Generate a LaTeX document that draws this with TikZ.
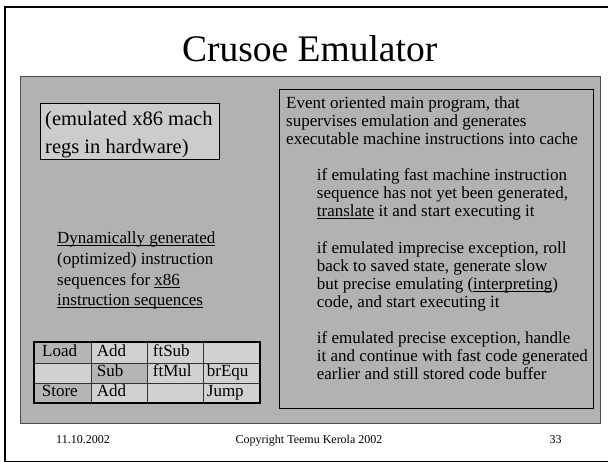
\documentclass[tikz,border=0pt]{standalone}
\usepackage{fontspec}
\setmainfont{Liberation Serif}
\newsavebox{\ulinbox}
\newcommand{\ulin}[1]{\sbox{\ulinbox}{#1}\rlap{\rule[-2.2pt]{\wd\ulinbox}{0.8pt}}\usebox{\ulinbox}}
\definecolor{panelgray}{gray}{0.70}
\definecolor{regsgray}{gray}{0.80}
\definecolor{celllight}{gray}{0.82}
\definecolor{celldark}{gray}{0.71}
\tikzset{
	bodytext/.style={anchor=base west, inner sep=0pt, align=left, font=\fontsize{17}{18.1}\selectfont},
	celltext/.style={anchor=base west, inner sep=0pt, font=\fontsize{17}{20}\selectfont},
	foottext/.style={anchor=base, inner sep=0pt, font=\fontsize{12}{14}\selectfont},
}

\begin{document}
\begin{tikzpicture}[x=1pt, y=-1pt]
			%%%%% START %%%%%
			\useasboundingbox (0, 0) rectangle (608, 462);
			\fill[white] (0, 0) rectangle (608, 462);
			
			% slide frame
			\draw[line width=1.8pt] (5, 7) rectangle (620, 461.5);
			
			\node[anchor=base, inner sep=0pt, font=\fontsize{37.5}{40}\selectfont] (title) at (309.7, 61.7) {Crusoe Emulator};
			
			% gray panel
			\draw[line width=1pt, color=black!70, fill=panelgray] (20, 77) rectangle (600, 423);
			
			% emulated registers (base = last line)
			\draw[line width=0.8pt, fill=regsgray] (40, 103) rectangle (219, 159);
			\node[bodytext, font=\fontsize{20.5}{28}\selectfont] (regs) at (45, 154) {(emulated x86 mach\\regs in hardware)};
			
			\node[bodytext, font=\fontsize{17}{20.6}\selectfont] (dyncode) at (57, 305.8) {\ulin{Dynamically generated}\\(optimized) instruction\\sequences for \ulin{x86}\\\ulin{instruction sequences}};
			
			% code buffer table
			\fill[celllight] (34, 342) rectangle (260, 403);
			\fill[celldark] (34, 342) rectangle (91, 363);
			\fill[celldark] (91, 363) rectangle (147, 383);
			\fill[celldark] (34, 383) rectangle (91, 403);
			\draw[line width=0.8pt, color=black!80] (91, 342) -- (91, 403);
			\draw[line width=0.8pt, color=black!80] (147, 342) -- (147, 403);
			\draw[line width=0.8pt, color=black!80] (203, 342) -- (203, 403);
			\draw[line width=0.8pt, color=black!80] (34, 363) -- (260, 363);
			\draw[line width=0.8pt, color=black!80] (34, 383) -- (260, 383);
			\draw[line width=2pt] (34, 342) rectangle (260, 403);
			
			\node[celltext] (load) at (42, 356.3) {Load};
			\node[celltext] (add1) at (96.7, 356.3) {Add};
			\node[celltext] (ftsub) at (152.7, 356.3) {ftSub};
			\node[celltext] (sub) at (96.7, 376.3) {Sub};
			\node[celltext] (ftmul) at (152.7, 376.3) {ftMul};
			\node[celltext] (brequ) at (206.7, 376.3) {brEqu};
			\node[celltext] (store) at (41.7, 396.3) {Store};
			\node[celltext] (add2) at (96.7, 396.3) {Add};
			\node[celltext] (jump) at (206.7, 396.3) {Jump};
			
			% main program box
			\draw[line width=0.8pt, fill=panelgray] (279, 89) rectangle (593, 408);
			\node[bodytext] (mainprog) at (286, 144.5) {Event oriented main program, that\\supervises emulation and generates\\executable machine instructions into cache};
			\node[bodytext] (fastcase) at (316.7, 216.9) {if emulating fast machine instruction\\sequence has not yet been generated,\\\ulin{translate} it and start executing it};
			\node[bodytext] (impcase) at (316.7, 307.4) {if emulated imprecise exception, roll\\back to saved state, generate slow\\but precise emulating (\ulin{interpreting})\\code, and start executing it};
			\node[bodytext] (precase) at (316.7, 379.8) {if emulated precise exception, handle\\it and continue with fast code generated\\earlier and still stored code buffer};
			
			% footer
			\node[foottext] (date) at (83, 443) {11.10.2002};
			\node[foottext] (copy) at (309, 443) {Copyright Teemu Kerola 2002};
			\node[foottext] (page) at (555.5, 443) {33};
			%%%%% END %%%%%
\end{tikzpicture}
\end{document}
